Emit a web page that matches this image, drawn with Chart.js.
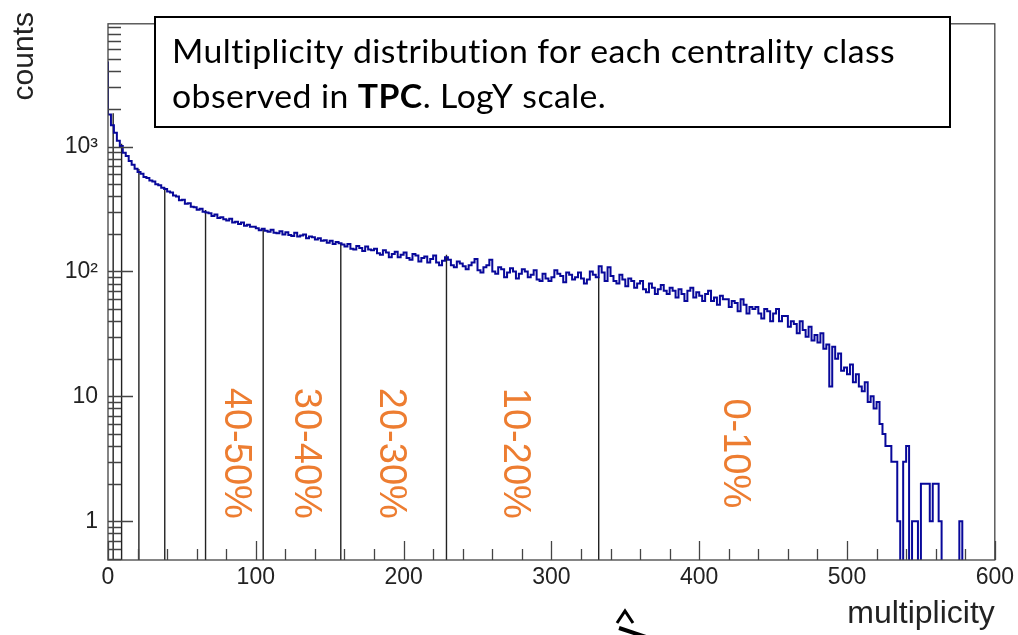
<!DOCTYPE html>
<html>
<head>
<meta charset="utf-8">
<script src="https://cdn.jsdelivr.net/npm/chart.js@4/dist/chart.umd.min.js"></script>
<style>
  html, body { margin: 0; padding: 0; background: #fff; }
  #wrap { width: 1018px; height: 635px; position: relative; }
</style>
</head>
<body>
<div id="wrap"><canvas id="multChart"></canvas></div>
<script>
// multiplicity histogram, bin width 2, from 0 to 600
const binWidth = 2;
const counts = [
  4800, 1800, 1480, 1290, 1110, 1010, 890, 840, 765, 715,
  665, 625, 605, 570, 560, 535, 525, 498, 490, 468,
  458, 436, 428, 405, 398, 372, 375, 348, 352, 330,
  326, 312, 318, 300, 296, 292, 278, 285, 268, 272,
  262, 256, 264, 246, 250, 240, 246, 232, 236, 228,
  228, 222, 214, 220, 212, 208, 216, 204, 202, 210,
  198, 206, 196, 192, 204, 190, 194, 198, 184, 190,
  188, 180, 184, 176, 178, 170, 176, 166, 172, 168,
  164, 158, 166, 152, 150, 160, 154, 146, 158, 150,
  148, 152, 140, 136, 148, 142, 130, 138, 144, 130,
  136, 142, 128, 124, 138, 134, 120, 128, 132, 118,
  126, 134, 118, 112, 122, 130, 124, 112, 108, 120,
  116, 110, 104, 112, 118, 126, 102, 98, 108, 112,
  124, 100, 96, 108, 104, 90, 98, 106, 100, 88,
  96, 104, 100, 90, 94, 102, 86, 84, 96, 88,
  84, 90, 102, 96, 92, 82, 98, 94, 86, 90,
  98, 88, 80, 86, 100, 94, 90, 110, 98, 84,
  108, 92, 84, 80, 94, 86, 76, 88, 84, 74,
  80, 84, 72, 68, 80, 74, 66, 72, 78, 70,
  66, 74, 70, 62, 72, 66, 58, 70, 74, 62,
  68, 64, 58, 66, 70, 58, 62, 54, 64, 60,
  60, 52, 58, 56, 48, 60, 54, 46, 52, 50,
  52, 46, 42, 50, 48, 40, 46, 50, 40, 44,
  44, 36, 40, 38, 32, 40, 34, 30, 36, 28,
  31, 27, 32, 24, 26, 12, 25, 20, 22, 16,
  17, 15, 18, 13, 15, 12, 11, 13, 9, 10,
  8, 9, 6, 5, 4, 4, 3, 3, 1, 0,
  3, 4, 0, 1, 1, 0, 2, 2, 2, 1,
  2, 2, 1, 0, 0, 0, 0, 0, 0, 1,
  0, 0, 0, 0, 0, 0, 0, 0, 0, 0
];

// centrality class boundaries and where each line meets the histogram
const edges    = [3.5, 9.2, 20.9, 38.4, 66, 105, 157.5, 229, 332];
const edgeTops = [1850, 1050, 660, 470, 310, 218, 169, 136, 90];

// centrality class labels (orange, rotated)
const classLabels = ['40-50%', '30-40%', '20-30%', '10-20%', '0-10%'];
const classX      = [86, 133.5, 191, 275, 424];
const classY      = 3.5;

// y axis decade labels
const yDecades    = [1, 10, 100, 1000];
const yDecadeText = ['1', '10', '10²', '10³'];

const FLOOR = 0.01; // empty bins drop below the axis (log scale)

Chart.defaults.font.family = "'Liberation Sans', Arial, sans-serif";
Chart.defaults.color = '#222';

// ---------- datasets ----------
const histPoints = counts.map((c, i) => ({ x: i * binWidth, y: c > 0 ? c : FLOOR }));
histPoints.push({ x: counts.length * binWidth, y: histPoints.at(-1).y });

const datasets = [{
  data: histPoints,
  borderColor: '#08089a',
  borderWidth: 2,
  stepped: 'after',
  pointRadius: 0,
  fill: false
}];
edges.forEach((e, i) => datasets.push({
  data: [{ x: e, y: FLOOR }, { x: e, y: edgeTops[i] }],
  borderColor: '#222',
  borderWidth: 1.4,
  pointRadius: 0,
  fill: false
}));

// ---------- ROOT-like frame, inner ticks, labels, text box ----------
const rootStyle = {
  id: 'rootStyle',
  afterDatasetsDraw(chart) {
    const { ctx, chartArea: a, scales: { x, y } } = chart;
    ctx.save();

    // frame
    ctx.strokeStyle = '#444';
    ctx.lineWidth = 1.3;
    ctx.strokeRect(a.left, a.top, a.right - a.left, a.bottom - a.top);

    // inner ticks
    ctx.beginPath();
    for (let v = 0; v <= 600; v += 20) {
      const px = Math.round(x.getPixelForValue(v)) + 0.5;
      ctx.moveTo(px, a.bottom);
      ctx.lineTo(px, a.bottom - (v % 100 === 0 ? 19 : 11));
    }
    for (let d = -1; d <= 3; d++) {
      for (let m = 1; m <= 9; m++) {
        const v = m * Math.pow(10, d);
        if (v < y.min || v > y.max) continue;
        const py = Math.round(y.getPixelForValue(v)) + 0.5;
        ctx.moveTo(a.left, py);
        ctx.lineTo(a.left + (m === 1 ? 25 : 13), py);
      }
    }
    ctx.stroke();

    // centrality labels
    ctx.fillStyle = '#ED7D31';
    ctx.font = "38px 'Liberation Sans', Arial, sans-serif";
    ctx.textAlign = 'center';
    ctx.textBaseline = 'middle';
    classLabels.forEach((t, i) => {
      ctx.save();
      ctx.translate(x.getPixelForValue(classX[i]), y.getPixelForValue(classY));
      ctx.rotate(Math.PI / 2);
      ctx.fillText(t, 0, 0);
      ctx.restore();
    });
    ctx.restore();
  },
  afterDraw(chart) {
    const ctx = chart.ctx;
    ctx.save();

    // y axis title, top-aligned like ROOT
    ctx.fillStyle = '#222';
    ctx.font = "30px 'Liberation Sans', Arial, sans-serif";
    ctx.textAlign = 'right';
    ctx.textBaseline = 'alphabetic';
    ctx.save();
    ctx.translate(33, 12);
    ctx.rotate(-Math.PI / 2);
    ctx.fillText('counts', 0, 0);
    ctx.restore();

    // annotation box
    ctx.fillStyle = '#fff';
    ctx.fillRect(155, 17, 795, 110);
    ctx.strokeStyle = '#000';
    ctx.lineWidth = 2;
    ctx.strokeRect(155, 17, 795, 110);

    ctx.fillStyle = '#000';
    ctx.textAlign = 'left';
    ctx.letterSpacing = '0.4px';     // keeps Lato from forming ligatures
    ctx.textRendering = 'optimizeSpeed';
    const reg = "32px Lato, 'Open Sans', sans-serif";
    const bold = "bold 32px Lato, 'Open Sans', sans-serif";
    const line1 = 'Multiplicity distribution for each centrality class';
    ctx.font = reg;
    const sx = 723 / ctx.measureText(line1).width;

    ctx.save();
    ctx.translate(172, 63);
    ctx.scale(sx, 1);
    ctx.fillText(line1, 0, 0);
    ctx.restore();

    ctx.save();
    ctx.translate(172, 108);
    ctx.scale(sx, 1);
    let cx = 0;
    [['observed in ', reg], ['TPC', bold], ['. LogY scale.', reg]].forEach(([t, f]) => {
      ctx.font = f;
      ctx.fillText(t, cx, 0);
      cx += ctx.measureText(t).width;
    });
    ctx.restore();

    // stray arrow fragment under the axis
    ctx.strokeStyle = '#000';
    ctx.lineWidth = 3;
    ctx.beginPath();
    ctx.moveTo(617, 623);
    ctx.lineTo(625, 611);
    ctx.lineTo(633, 623);
    ctx.stroke();
    ctx.lineWidth = 4;
    ctx.beginPath();
    ctx.moveTo(619, 628);
    ctx.lineTo(646, 637);
    ctx.stroke();

    ctx.restore();
  }
};

new Chart(document.getElementById('multChart'), {
  type: 'line',
  data: { datasets },
  options: {
    responsive: true,
    maintainAspectRatio: false,
    animation: false,
    devicePixelRatio: 1,
    layout: { padding: { top: 5, right: 20, left: 0, bottom: 0 } },
    plugins: { legend: { display: false }, tooltip: { enabled: false } },
    scales: {
      x: {
        type: 'linear',
        min: 0,
        max: 600,
        ticks: { stepSize: 100, font: { size: 23 }, color: '#222', padding: 4, maxRotation: 0 },
        grid: { drawOnChartArea: false, drawTicks: false },
        border: { display: false },
        title: {
          display: true, text: 'multiplicity', align: 'end',
          font: { size: 32 }, color: '#222', padding: { top: 0, bottom: 2 }
        },
        afterFit: s => { s.height = 75; }
      },
      y: {
        type: 'logarithmic',
        min: 0.49,
        max: 9600,
        ticks: {
          autoSkip: false, font: { size: 23 }, color: '#222', padding: 10,
          callback: v => {
            const k = yDecades.findIndex(d => Math.abs(v / d - 1) < 1e-6);
            return k < 0 ? '' : yDecadeText[k];
          }
        },
        grid: { drawOnChartArea: false, drawTicks: false },
        border: { display: false },
        afterFit: s => { s.width = 108; }
      }
    }
  },
  plugins: [rootStyle]
});
</script>
</body>
</html>
